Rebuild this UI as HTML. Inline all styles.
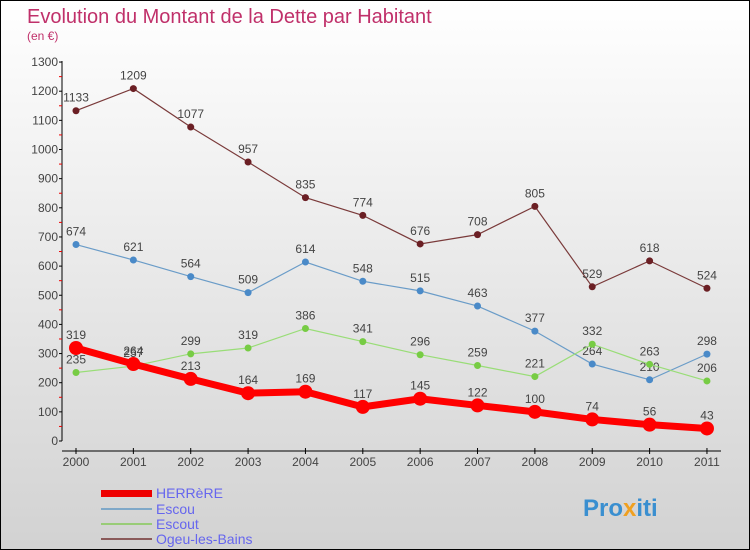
<!DOCTYPE html>
<html><head><meta charset="utf-8"><style>
body{margin:0}
#wrap{width:750px;height:550px;position:relative;box-sizing:border-box;border:1px solid #000;background:linear-gradient(#fff,#d2d2d2);font-family:"Liberation Sans",sans-serif;overflow:hidden}
</style></head><body>
<div id="wrap">
<svg id="svg" width="748" height="548" xmlns="http://www.w3.org/2000/svg" style="position:absolute;left:0;top:0">
<text x="26" y="22" font-size="20" fill="#c0306a">Evolution du Montant de la Dette par Habitant</text>
<text x="26" y="39" font-size="12" fill="#c0306a">(en €)</text>
<g id="axes"></g><g id="series"></g>
<g>
<rect x="100" y="489" width="51" height="7" fill="#e00"/>
<text x="155" y="497" font-size="14" fill="#6666ee">HERRèRE</text>
<rect x="100" y="507" width="51" height="2" fill="#7fa8c8"/>
<text x="155" y="513" font-size="14" fill="#6666ee">Escou</text>
<rect x="100" y="522" width="51" height="2" fill="#99cc77"/>
<text x="155" y="528" font-size="14" fill="#6666ee">Escout</text>
<rect x="100" y="537" width="51" height="2" fill="#8a5a5a"/>
<text x="155" y="543" font-size="14" fill="#6666ee">Ogeu-les-Bains</text>
</g>
<text x="582" y="515" font-size="24" font-weight="bold" fill="#3a8fd0">Pro<tspan fill="#f0a020">x</tspan>iti</text>
</svg></div>
<script>
const years=["2000","2001","2002","2003","2004","2005","2006","2007","2008","2009","2010","2011"];
const yTicks=[0,100,200,300,400,500,600,700,800,900,1000,1100,1200,1300];
const herrere=[319,264,213,164,169,117,145,122,100,74,56,43];
const escou=[674,621,564,509,614,548,515,463,377,264,210,298];
const escout=[235,257,299,319,386,341,296,259,221,332,263,206];
const ogeu=[1133,1209,1077,957,835,774,676,708,805,529,618,524];
const NS="http://www.w3.org/2000/svg";
const X=i=>75+i*57.36, Y=v=>440-v*0.2915;
function mk(t,a,p){const e=document.createElementNS(NS,t);for(const k in a)e.setAttribute(k,a[k]);p.appendChild(e);return e;}
const ax=document.getElementById('axes');
let l=mk('line',{x1:61,y1:60,x2:61,y2:440,stroke:'#000'},ax);


yTicks.forEach(v=>{mk('line',{x1:58,x2:61,y1:Y(v),y2:Y(v),stroke:'#000'},ax);
 if(v<1300)mk('line',{x1:58,x2:61,y1:Y(v+50),y2:Y(v+50),stroke:'#e00'},ax);
 const t=mk('text',{x:57,y:Y(v)+4,'font-size':12,'text-anchor':'end',fill:'#444'},ax);t.textContent=v;
 
 });
l=mk('line',{x1:61,y1:450,x2:720,y2:450,stroke:'#000'},ax);


years.forEach((y,i)=>{mk('line',{x1:X(i),x2:X(i),y1:447,y2:453,stroke:'#000'},ax);
 const t=mk('text',{x:X(i),y:465,'font-size':12,'text-anchor':'middle',fill:'#444'},ax);t.textContent=y;
 
 });
const sg=document.getElementById('series');
function draw(d,name,col,w,r,dot){const g=mk('g',{},sg);
 
 
 mk('polyline',{points:d.map((v,i)=>X(i)+','+Y(v)).join(' '),fill:'none',stroke:col,'stroke-width':w},g);
 d.forEach((v,i)=>{const c=mk('circle',{cx:X(i),cy:Y(v),r:r,fill:dot},g);
  
  
  const t=mk('text',{x:X(i),y:Y(v)-9,'font-size':12,'text-anchor':'middle',fill:'#444'},g);t.textContent=v;
  
  });}
draw(ogeu,'ogeu','#7a3a3a',1.2,3.5,'#6b1f24');
draw(escou,'escou','#6a9cc8',1.2,3.5,'#4a8ac8');
draw(escout,'escout','#99dd77',1.2,3.5,'#77cc44');
draw(herrere,'herrere','#f00',7,7,'#f00');
</script></body></html>
